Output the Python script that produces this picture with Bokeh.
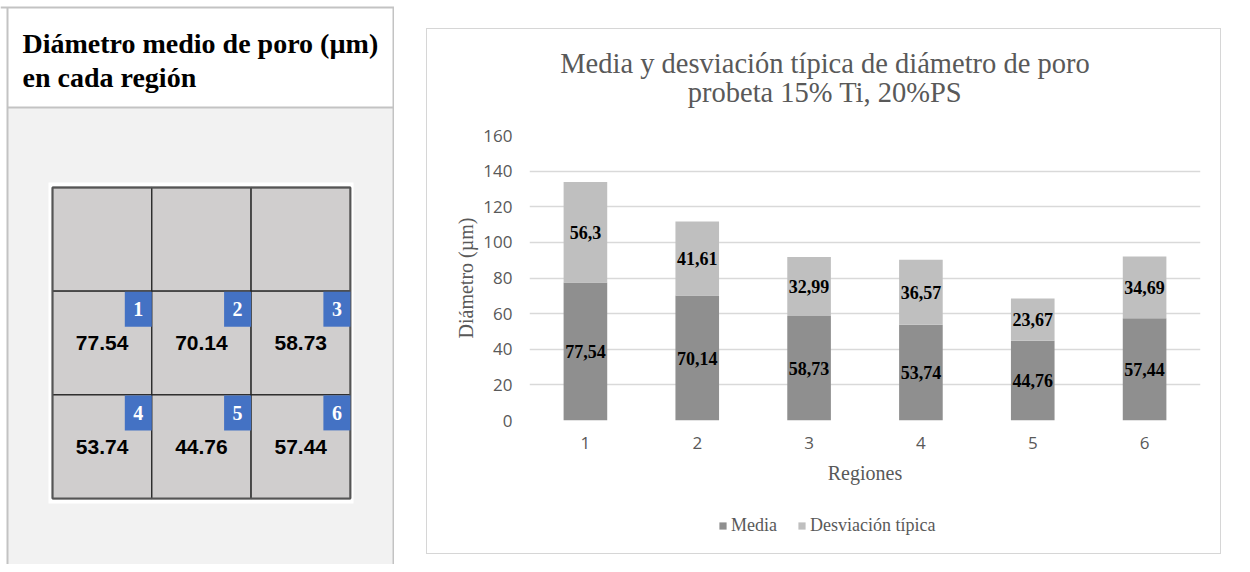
from bokeh.plotting import figure
from bokeh.models import (ColumnDataSource, Range1d, FactorRange, LabelSet, Legend,
                          LegendItem, FixedTicker)
from bokeh.layouts import row, column
from bokeh.embed import file_html
from bokeh.resources import INLINE
from bokeh.core.properties import value

# ---------------- data ----------------
header_lines = ["Diámetro medio de poro (µm)", "en cada región"]
region_ids = ["1", "2", "3", "4", "5", "6"]
region_means = [77.54, 70.14, 58.73, 53.74, 44.76, 57.44]

chart_title = ["Media y desviación típica de diámetro de poro", "probeta 15% Ti, 20%PS"]
regiones = ["1", "2", "3", "4", "5", "6"]
media = [77.54, 70.14, 58.73, 53.74, 44.76, 57.44]
desviacion = [56.3, 41.61, 32.99, 36.57, 23.67, 34.69]
y_ticks = [0, 20, 40, 60, 80, 100, 120, 140, 160]
series_names = ["Media", "Desviación típica"]
x_label = "Regiones"
y_label = "Diámetro (µm)"

# ---------------- styles ----------------
SERIF = "Liberation Serif"
SANS = "Open Sans"
GRAY_TXT = "#595959"
C_MEDIA = "#8f8f8f"
C_DESV = "#bfbfbf"
TABLE_LINE = "#c3c3c3"
BOX_LINE = "1px solid #d6d6d6"
H = 564


def blank_fig(w, h, xr, yr, **kw):
    f = figure(width=w, height=h, x_range=xr, y_range=yr, output_backend="svg",
               toolbar_location=None, min_border=0, x_axis_location=None,
               y_axis_location=None, outline_line_color=None,
               background_fill_color="white", border_fill_color="white",
               frame_align=False, **kw)
    f.grid.visible = False
    return f


# ---------------- left panel (table cell with region map) ----------------
LW = 394
left = blank_fig(LW, H, Range1d(0, LW), Range1d(H, 0))

left.quad(left=[7], right=[393], top=[7], bottom=[107], fill_color="white", line_color=None)
left.quad(left=[7], right=[393], top=[107], bottom=[H], fill_color="#f2f2f2", line_color=None)
left.segment(x0=[0, 7, 393, 7], y0=[7, 7, 7, 107], x1=[LW, 7, 393, 393], y1=[7, H, H, 107],
             line_color=TABLE_LINE, line_width=2)

left.text(x=[22] * len(header_lines), y=[43 + 34 * i for i in range(len(header_lines))],
          text=header_lines, text_font=value(SERIF), text_font_style="bold",
          text_font_size="28px", text_color="black", text_baseline="middle",
          text_align="left")

left.quad(left=[48], right=[353], top=[182], bottom=[503], fill_color="white", line_color=None)

GX0, GY0, CW, CH = 52, 187, 99.3, 103.7
cells_x, cells_y = [], []
for r in range(3):
    for c in range(3):
        cells_x.append(GX0 + (c + 0.5) * CW)
        cells_y.append(GY0 + (r + 0.5) * CH)
left.rect(x=cells_x, y=cells_y, width=CW, height=CH, fill_color="#d0cece",
          line_color="#262626", line_width=1.3)
left.quad(left=[GX0], right=[GX0 + 3 * CW], top=[GY0], bottom=[GY0 + 3 * CH],
          fill_color=None, line_color="#555555", line_width=2)

cx, cy, bx, by = [], [], [], []
for i in range(len(region_ids)):
    c = i % 3
    r = i // 3 + 1
    cx.append(GX0 + (c + 0.5) * CW)
    cy.append(GY0 + (r + 0.5) * CH)
    bx.append(GX0 + (c + 1) * CW - 13.5)
    by.append(GY0 + r * CH + 18)
reg_src = ColumnDataSource(dict(cx=cx, cy=cy, bx=bx, by=by, rid=region_ids,
                                val=["%.2f" % v for v in region_means]))
left.rect(x="bx", y="by", width=27, height=35, fill_color="#4472c4", line_color=None,
          source=reg_src)
left.text(x="bx", y="by", text="rid", source=reg_src, text_font=value(SERIF),
          text_font_style="bold", text_font_size="20px", text_color="white",
          text_align="center", text_baseline="middle")
left.text(x="cx", y="cy", text="val", source=reg_src, text_font=value("Liberation Sans"),
          text_font_style="bold", text_font_size="21px", text_color="black",
          text_align="center", text_baseline="middle")

# ---------------- right column: table top border ----------------
RW = 848
strip = blank_fig(RW, 9, Range1d(0, RW), Range1d(9, 0))
strip.line(x=[0, RW], y=[7, 7], line_color=TABLE_LINE, line_width=2)

# ---------------- chart title strip (top of chart box) ----------------
CHW = 795
TH = 92
tfig = blank_fig(CHW, TH, Range1d(0, CHW), Range1d(TH, 0), margin=(19, 0, 0, 32),
                 styles={"border-top": BOX_LINE, "border-left": BOX_LINE,
                         "border-right": BOX_LINE})
tfig.text(x=[CHW / 2] * len(chart_title), y=[34 + 28.5 * i for i in range(len(chart_title))],
          text=chart_title, text_font=value(SERIF), text_font_size="28.5px",
          text_color=GRAY_TXT, text_align="center", text_baseline="middle")

# ---------------- chart ----------------
src = ColumnDataSource(dict(
    region=regiones,
    media=media,
    desv=desviacion,
    media_mid=[m / 2 for m in media],
    desv_mid=[m + d / 2 for m, d in zip(media, desviacion)],
    media_txt=[str(m).replace(".", ",") for m in media],
    desv_txt=[str(d).replace(".", ",") for d in desviacion],
))

p = figure(width=CHW, height=368, x_range=FactorRange(*regiones), y_range=Range1d(0, 160),
           output_backend="svg", toolbar_location=None, title=None,
           min_border_left=102, min_border_right=22, min_border_top=15, min_border_bottom=68,
           outline_line_color=None, background_fill_color="white", border_fill_color="white",
           frame_align=False, margin=(0, 0, 0, 32),
           styles={"border-left": BOX_LINE, "border-right": BOX_LINE})

rs = p.vbar_stack(["media", "desv"], x="region", width=0.39, color=[C_MEDIA, C_DESV],
                  line_color=None, source=src)

lbl_kw = dict(source=src, text_align="center", text_baseline="middle",
              text_font=value(SERIF), text_font_style="bold", text_font_size="18px",
              text_color="black")
p.add_layout(LabelSet(x="region", y="media_mid", text="media_txt", **lbl_kw))
p.add_layout(LabelSet(x="region", y="desv_mid", text="desv_txt", **lbl_kw))

p.yaxis.ticker = FixedTicker(ticks=y_ticks)
for ax in (p.xaxis, p.yaxis):
    ax.axis_line_color = None
    ax.major_tick_line_color = None
    ax.minor_tick_line_color = None
    ax.major_label_text_font = SANS
    ax.major_label_text_font_size = "17px"
    ax.major_label_text_color = GRAY_TXT
    ax.axis_label_text_font = SERIF
    ax.axis_label_text_font_size = "20px"
    ax.axis_label_text_font_style = "normal"
    ax.axis_label_text_color = GRAY_TXT
p.yaxis.axis_label = y_label
p.xaxis.axis_label = x_label
p.yaxis.major_label_standoff = 11
p.yaxis.axis_label_standoff = 3
p.xaxis.major_label_standoff = 10
p.xaxis.axis_label_standoff = 10

p.xgrid.grid_line_color = None
p.ygrid.grid_line_color = "#d9d9d9"
p.ygrid.grid_line_width = 1.5

# ---------------- legend strip (bottom of chart box) ----------------
leg = blank_fig(CHW, 66, FactorRange(*regiones), Range1d(0, 1), margin=(0, 0, 0, 32),
                styles={"border-bottom": BOX_LINE, "border-left": BOX_LINE,
                        "border-right": BOX_LINE})
# legend key renderers: same series, zero-width so only the legend swatches show
icons = [leg.vbar(x="region", top=col, width=0, fill_color=clr, line_color=None, source=src)
         for col, clr in (("media", C_MEDIA), ("desv", C_DESV))]
legend = Legend(items=[LegendItem(label=series_names[i], renderers=[icons[i]])
                       for i in range(len(series_names))],
                orientation="horizontal", location=(291, 18), border_line_color=None,
                background_fill_alpha=0, glyph_width=9, glyph_height=9,
                label_text_font=SERIF, label_text_font_size="18px",
                label_text_color=GRAY_TXT, spacing=20, label_standoff=4,
                padding=0, margin=0, label_height=20)
leg.add_layout(legend, "center")

layout = row(left, column(strip, tfig, p, leg))

open("out.html", "w").write(file_html(layout, INLINE))
